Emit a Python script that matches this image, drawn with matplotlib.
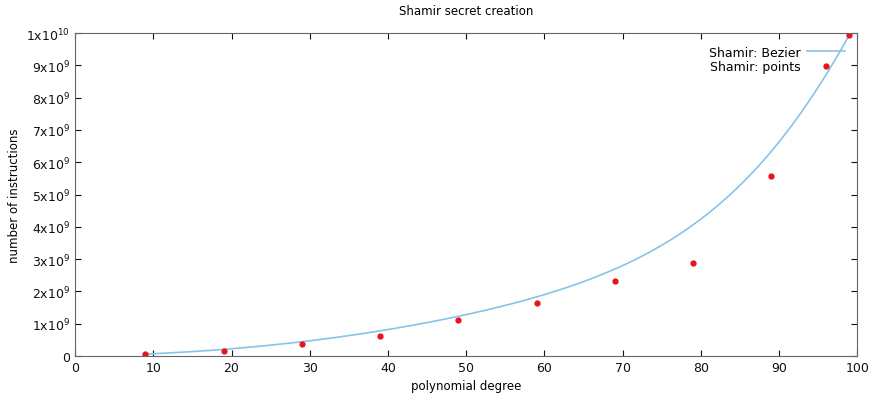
import numpy as np
import matplotlib.pyplot as plt
from math import comb

# polynomial degree vs number of instructions
degree = [9, 19, 29, 39, 49, 59, 69, 79, 89, 99]
instructions = [0.06e9, 0.16e9, 0.37e9, 0.63e9, 1.11e9, 1.63e9, 2.31e9, 2.89e9, 5.58e9, 9.95e9]

x_ticks = [0, 10, 20, 30, 40, 50, 60, 70, 80, 90, 100]
y_ticks = [0, 1e9, 2e9, 3e9, 4e9, 5e9, 6e9, 7e9, 8e9, 9e9, 1e10]
y_labels = ['0'] + [r'$\mathregular{%dx10^{9}}$' % i for i in range(1, 10)] + [r'$\mathregular{1x10^{10}}$']


def bezier(xs, ys, n=300):  # like gnuplot "smooth bezier"
    xs = np.asarray(xs, float)
    ys = np.asarray(ys, float)
    k = len(xs) - 1
    t = np.linspace(0, 1, n)
    bx = np.zeros(n)
    by = np.zeros(n)
    for i in range(k + 1):
        b = comb(k, i) * t ** i * (1 - t) ** (k - i)
        bx += b * xs[i]
        by += b * ys[i]
    return bx, by


plt.rcParams['font.family'] = ['DejaVu Sans']
fig = plt.figure(figsize=(8.73, 4.06), dpi=100)
ax = fig.add_axes([0.086, 0.1207, 0.896, 0.7953])

bx, by = bezier(degree, instructions)
ax.plot(bx, by, color='#87c4e6', lw=1.2, label='Shamir: Bezier')
ax.plot(degree, instructions, ls='none', marker='o', ms=3.5, color='#e8141b', label='Shamir: points')

ax.set_xlim(0, 100)
ax.set_ylim(0, 1e10)
ax.set_xticks(x_ticks)
ax.set_yticks(y_ticks)
ax.set_yticklabels(y_labels)
ax.tick_params(direction='in', top=True, right=True, length=4, labelsize=9, colors='#111111')
for s in ax.spines.values():
    s.set_color('#666666')
ax.set_xlabel('polynomial degree', fontsize=8.5)
ax.set_ylabel('number of instructions', fontsize=8.5)
ax.set_title('Shamir secret creation', fontsize=8.5, pad=14)

ax.legend(loc='upper right', frameon=False, markerfirst=False, fontsize=9,
          handlelength=3.0, handletextpad=0.5, borderaxespad=0.6, labelspacing=0.15)

plt.savefig('out.png')
